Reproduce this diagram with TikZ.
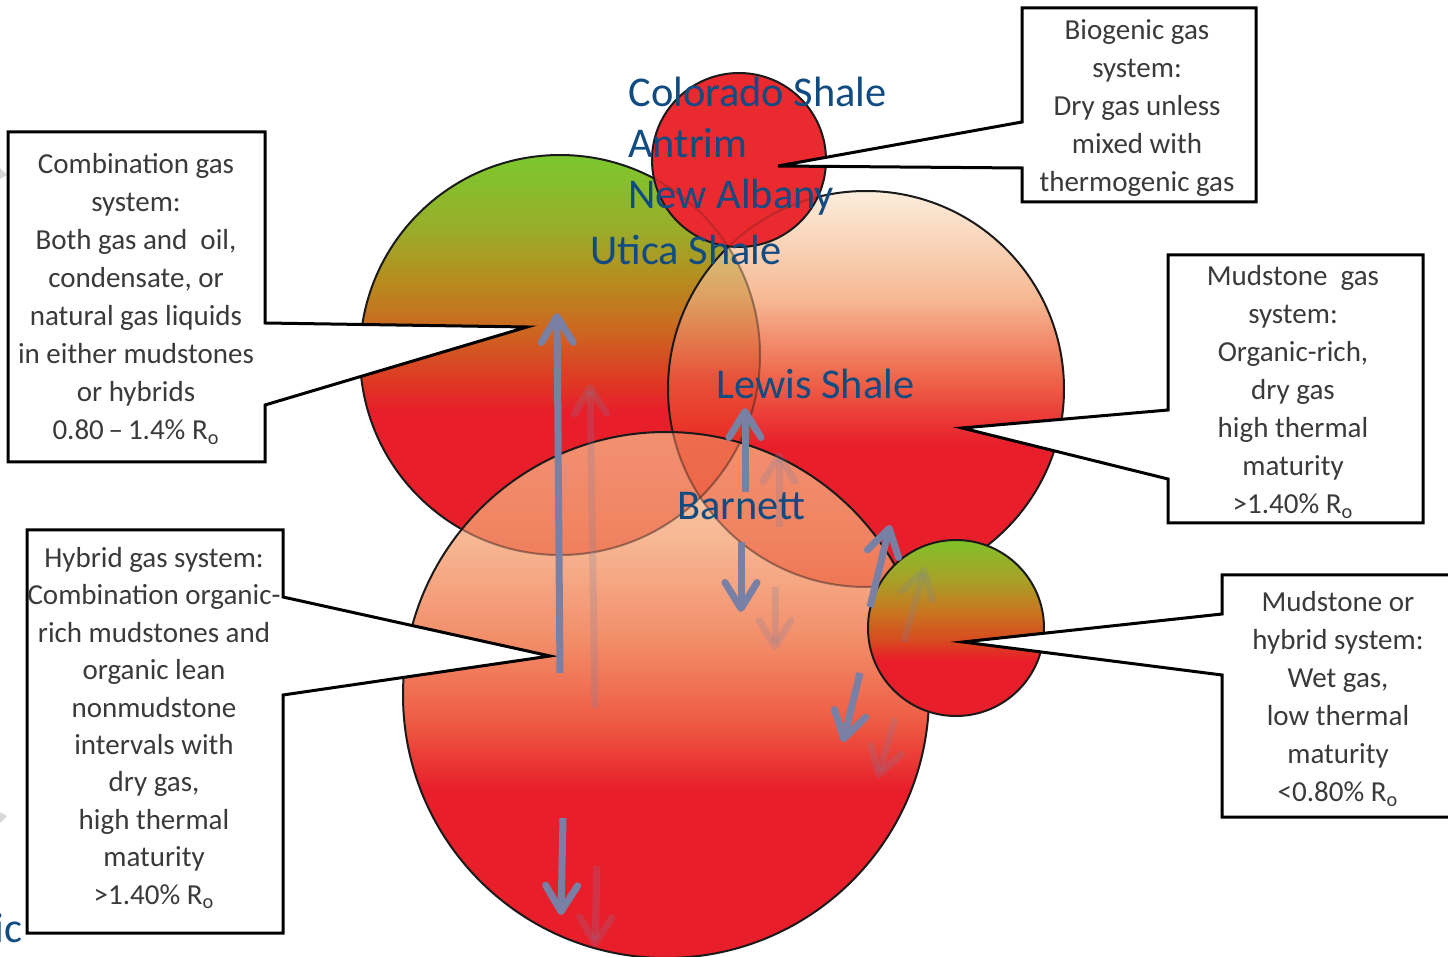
\documentclass[tikz,border=0pt]{standalone}
\usepackage{fontspec}
\setmainfont{Carlito}
\usetikzlibrary{arrows.meta}
\definecolor{cRed}{HTML}{E81E2A}
\definecolor{cbA}{HTML}{7CC82E}
\definecolor{cbB}{HTML}{98AE2A}
\definecolor{cbC}{HTML}{B4901F}
\definecolor{cbD}{HTML}{CD6620}
\definecolor{cbE}{HTML}{DE3A24}
\definecolor{pcA}{HTML}{FCEDDC}
\definecolor{pcB}{HTML}{F6B994}
\definecolor{pcC}{HTML}{EE6248}
\definecolor{lcA}{HTML}{FAD0B0}
\definecolor{lcB}{HTML}{F7B894}
\definecolor{lcC}{HTML}{F28C68}
\definecolor{lcD}{HTML}{EE5C44}
\definecolor{gcA}{HTML}{80C228}
\definecolor{gcB}{HTML}{A8A028}
\definecolor{gcC}{HTML}{C87820}
\definecolor{gcD}{HTML}{D84A20}
\definecolor{cOvl}{HTML}{E83A1C}
\definecolor{cBioRed}{HTML}{EA2A2E}
\definecolor{cLine}{HTML}{1A1A1A}
\definecolor{cText}{HTML}{3A3A3A}
\definecolor{cBlue}{HTML}{104C82}
\definecolor{cArrow}{HTML}{7880A6}
\definecolor{cFaint}{HTML}{D8D8D8}
\pgfdeclareverticalshading{combsh}{100bp}{color(0bp)=(cRed); color(43bp)=(cRed); color(47bp)=(cbE); color(53bp)=(cbD); color(60bp)=(cbC); color(66bp)=(cbB); color(75bp)=(cbA); color(100bp)=(cbA)}
\pgfdeclareverticalshading{combov}{100bp}{color(0bp)=(cOvl); color(43bp)=(cOvl); color(47bp)=(cbE); color(53bp)=(cbD); color(60bp)=(cbC); color(66bp)=(cbB); color(75bp)=(cbA); color(100bp)=(cbA)}
\pgfdeclareverticalshading{peachsh}{100bp}{color(0bp)=(cRed); color(43bp)=(cRed); color(51bp)=(pcC); color(61.5bp)=(pcB); color(75bp)=(pcA); color(100bp)=(pcA)}
\pgfdeclareverticalshading{peachov}{100bp}{color(0bp)=(cOvl); color(43bp)=(cOvl); color(51bp)=(pcC); color(61.5bp)=(pcB); color(75bp)=(pcA); color(100bp)=(pcA)}
\pgfdeclareverticalshading{lowsh}{100bp}{color(0bp)=(cRed); color(41bp)=(cRed); color(47.5bp)=(lcD); color(55bp)=(lcC); color(65bp)=(lcB); color(75bp)=(lcA); color(100bp)=(lcA)}
\pgfdeclareverticalshading{wetsh}{100bp}{color(0bp)=(cRed); color(41bp)=(cRed); color(46.5bp)=(gcD); color(55bp)=(gcC); color(63.5bp)=(gcB); color(75bp)=(gcA); color(100bp)=(gcA)}
\tikzset{
  circ/.style={draw=cLine, line width=1pt},
  callout/.style={draw=black, line width=1.5pt, fill=white, line join=miter},
  ctext/.style={text=cText, align=center, font=\fontsize{14.5pt}{19pt}\selectfont, inner sep=0pt},
  shale/.style={text=cBlue, font=\fontsize{21.2pt}{26pt}\selectfont, inner sep=0pt, anchor=base west},
  flow/.style={draw=cArrow, line width=3.5pt, -{Straight Barb[length=13pt,width=16pt,round]}},
  ghost/.style={flow, opacity=0.22}
}
\begin{document}
\begin{tikzpicture}[x=0.5pt,y=-0.5pt]
\useasboundingbox (0,0) rectangle (1448,957);
\clip (0,0) rectangle (1448,957);
\fill[white] (0,0) rectangle (1448,957);

\coordinate (cComb) at (560,355);
\coordinate (cPeach) at (866,389);
\coordinate (cLow) at (666,695);
\coordinate (cBio) at (739,160);
\coordinate (cWet) at (956,628);

% faint marks at left edge
\fill[cFaint] (0,168) -- (7,175) -- (0,179) -- cycle;
\fill[cFaint] (0,812) -- (7,816) -- (0,823) -- cycle;

% combination circle
\shade[shading=combsh] (cComb) circle[radius=100pt];
\draw[circ] (cComb) circle[radius=100pt];

% mudstone circle
\shade[shading=peachsh] (cPeach) circle[radius=99pt];
\begin{scope}
  \clip (cPeach) circle[radius=99pt];
  \shade[shading=combov, opacity=0.42] (cComb) circle[radius=100pt];
  \draw[circ, opacity=0.42] (cComb) circle[radius=100pt];
\end{scope}
\draw[circ] (cPeach) circle[radius=99pt];

% hybrid circle
\shade[shading=lowsh] (cLow) circle[radius=131.5pt];
\begin{scope}
  \clip (cLow) circle[radius=131.5pt];
  \shade[shading=combov, opacity=0.42] (cComb) circle[radius=100pt];
  \shade[shading=peachov, opacity=0.42] (cPeach) circle[radius=99pt];
  \draw[circ, opacity=0.42] (cComb) circle[radius=100pt];
  \draw[circ, opacity=0.42] (cPeach) circle[radius=99pt];
\end{scope}
\draw[circ] (cLow) circle[radius=131.5pt];

% biogenic circle
\fill[cBioRed] (cBio) circle[radius=43.5pt];
\begin{scope}
  \clip (cBio) circle[radius=43.5pt];
  \draw[circ, opacity=0.2] (cComb) circle[radius=100pt];
  \draw[circ, opacity=0.2] (cPeach) circle[radius=99pt];
\end{scope}
\draw[circ] (cBio) circle[radius=43.5pt];

% wet gas circle
\shade[shading=wetsh] (cWet) circle[radius=44pt];
\draw[circ] (cWet) circle[radius=44pt];

% arrow end points
\coordinate (a1s) at (560,673); \coordinate (a1e) at (557,313);
\coordinate (g1s) at (595,708); \coordinate (g1e) at (590,384);
\coordinate (a2s) at (745,492); \coordinate (a2e) at (745,408);
\coordinate (g2s) at (779,527); \coordinate (g2e) at (779,452);
\coordinate (a3s) at (741,542); \coordinate (a3e) at (741,612);
\coordinate (g3s) at (775,587); \coordinate (g3e) at (775,650);
\coordinate (a4s) at (870,607); \coordinate (a4e) at (890,525);
\coordinate (g4s) at (904,642); \coordinate (g4e) at (925,567);
\coordinate (a5s) at (860,673); \coordinate (a5e) at (843,742);
\coordinate (g5s) at (895,718); \coordinate (g5e) at (878,778);
\coordinate (a6s) at (563,818); \coordinate (a6e) at (561,915);
\coordinate (g6s) at (597,866); \coordinate (g6e) at (595,947);

% ghost arrows
\draw[ghost] (g1s) -- (g1e);
\draw[ghost] (g2s) -- (g2e);
\draw[ghost] (g3s) -- (g3e);
\draw[ghost] (g4s) -- (g4e);
\draw[ghost] (g5s) -- (g5e);
\draw[ghost] (g6s) -- (g6e);

% callouts
\draw[callout] (8,132) -- (265,132) -- (265,323) -- (527,327) -- (265,405) -- (265,462) -- (8,462) -- cycle;
\draw[callout] (27,530) -- (283,530) -- (283,597) -- (550,656) -- (283,695) -- (283,933) -- (27,933) -- cycle;
\draw[callout] (1022,8) -- (1256,8) -- (1256,202) -- (1022,202) -- (1022,168) -- (778,166) -- (1022,122) -- cycle;
\draw[callout] (1168,255) -- (1423,255) -- (1423,523) -- (1168,523) -- (1168,479) -- (962,428) -- (1168,410) -- cycle;
\draw[callout] (1222,575) -- (1470,575) -- (1470,817) -- (1222,817) -- (1222,675) -- (963,642) -- (1222,614) -- cycle;

\node[ctext] (tcomb) at (136,299) {Combination gas\\system:\\Both gas and~ oil,\\condensate, or\\natural gas liquids\\in either mudstones\\or hybrids\\0.80\,–\,1.4\% R\textsubscript{o}};
\node[ctext, font=\fontsize{14.5pt}{18.7pt}\selectfont] (thyb) at (154,728) {Hybrid gas system:\\Combination organic-\\rich mudstones and\\organic lean\\nonmudstone\\intervals with\\dry gas,\\high thermal\\maturity\\>1.40\% R\textsubscript{o}};
\node[ctext] (tbio) at (1137,108) {Biogenic gas\\system:\\Dry gas unless\\mixed with\\thermogenic gas};
\node[ctext] (tmud) at (1293,392) {Mudstone~ gas\\system:\\Organic-rich,\\dry gas\\high thermal\\maturity\\>1.40\% R\textsubscript{o}};
\node[ctext] (twet) at (1338,699) {Mudstone or\\hybrid system:\\Wet gas,\\low thermal\\maturity\\<0.80\% R\textsubscript{o}};

% blue arrows
\draw[flow] (a1s) -- (a1e);
\draw[flow] (a2s) -- (a2e);
\draw[flow] (a3s) -- (a3e);
\draw[flow] (a4s) -- (a4e);
\draw[flow] (a5s) -- (a5e);
\draw[flow] (a6s) -- (a6e);

% shale labels
\node[shale] (colorado) at (628,107) {Colorado Shale};
\node[shale] (antrim) at (628,158) {Antrim};
\node[shale] (albany) at (628,209) {New Albany};
\node[shale] (utica) at (590,265) {Utica Shale};
\node[shale] (lewis) at (716,399) {Lewis Shale};
\node[shale] (barnett) at (677,520) {Barnett};
\node[shale, anchor=base east] (ic) at (23,942) {ic};
\end{tikzpicture}
\end{document}
